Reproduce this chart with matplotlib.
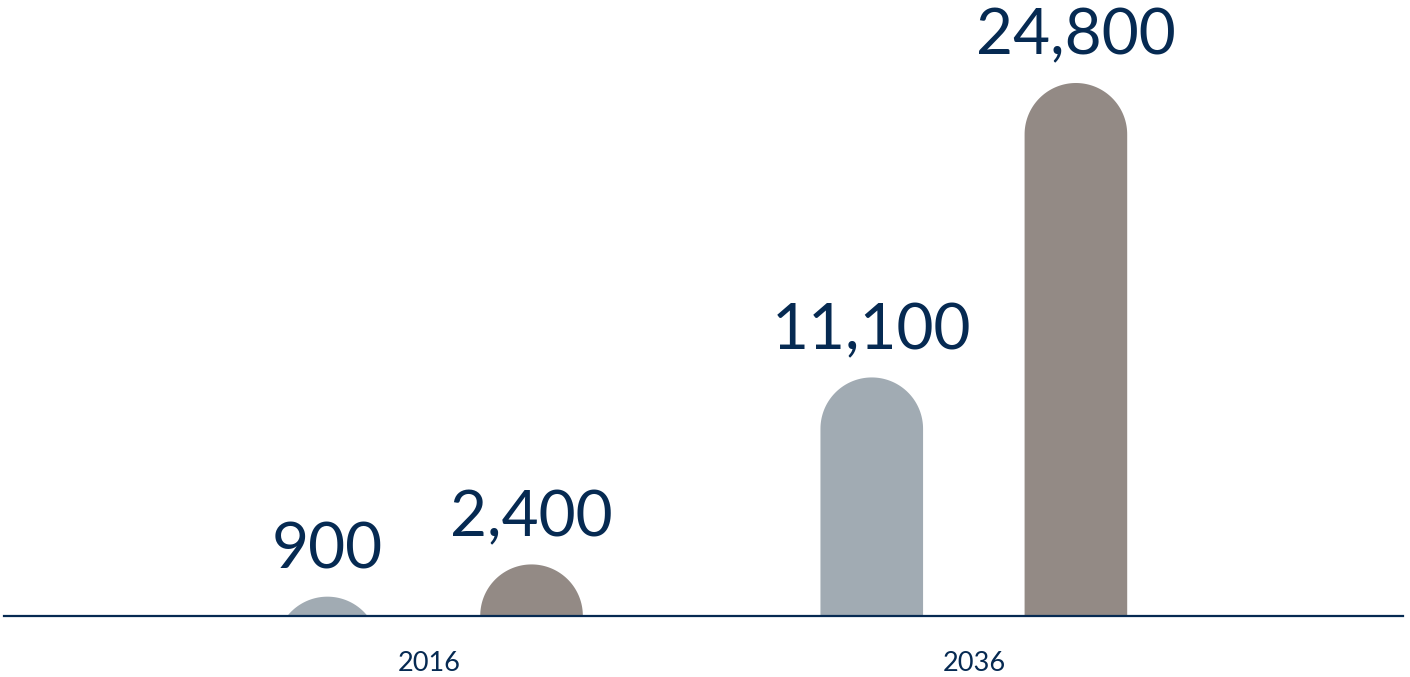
import numpy as np
import matplotlib
matplotlib.use("Agg")
import matplotlib.pyplot as plt
from matplotlib.patches import PathPatch
from matplotlib.path import Path

categories = ["2016", "2036"]
series_a = [900, 11100]
series_b = [2400, 24800]
value_labels_a = ["900", "11,100"]
value_labels_b = ["2,400", "24,800"]

NAVY = "#062a52"
COL_A = "#a1abb3"
COL_B = "#938a85"

W, H, DPI = 1410, 677, 100
fig = plt.figure(figsize=(W / DPI, H / DPI), dpi=DPI)
ax_left_px, ax_right_px, base_px = 4, 1403, 616
ax = fig.add_axes([ax_left_px / W, (H - base_px) / H, (ax_right_px - ax_left_px) / W, base_px / H])

ymax = 24800 * base_px / 533.0
x0, x1 = -0.7816, 1.7884
ax.set_ylim(0, ymax)
ax.set_xlim(x0, x1)

bar_w = 0.1885
offset = 0.1875
ax_w_px = ax_right_px - ax_left_px
r_px = bar_w / (x1 - x0) * ax_w_px / 2.0
r_y = r_px * ymax / base_px

def rounded_bar(x, v, color):
    cy = v - r_y
    t = np.linspace(0, np.pi, 80)
    arc_x = x + (bar_w / 2) * np.cos(t)
    arc_y = cy + r_y * np.sin(t)
    bottom = min(0, cy) - r_y
    xs = np.concatenate([[x + bar_w / 2], arc_x, [x - bar_w / 2]])
    ys = np.concatenate([[bottom], arc_y, [bottom]])
    verts = np.column_stack([xs, ys])
    path = Path(np.vstack([verts, verts[:1]]), closed=True)
    ax.add_patch(PathPatch(path, facecolor=color, edgecolor="none", lw=0))

for i, cat in enumerate(categories):
    xa = i - offset
    xb = i + offset
    rounded_bar(xa, series_a[i], COL_A)
    rounded_bar(xb, series_b[i], COL_B)
    ax.annotate(value_labels_a[i], (xa, series_a[i]), xytext=(0, 12.5), textcoords="offset points",
                ha="center", va="bottom", fontsize=46, color=NAVY, family="Lato")
    ax.annotate(value_labels_b[i], (xb, series_b[i]), xytext=(0, 12.5), textcoords="offset points",
                ha="center", va="bottom", fontsize=46, color=NAVY, family="Lato")

ax.axhline(0, color=NAVY, lw=1.6, zorder=5, clip_on=False)
for s in ax.spines.values():
    s.set_visible(False)
ax.set_yticks([])
ax.set_xticks(range(len(categories)))
ax.set_xticklabels(categories, fontsize=19.5, color=NAVY, family="Lato")
ax.tick_params(axis="x", length=0, pad=25)
ax.patch.set_alpha(0)

fig.savefig("out.png", dpi=DPI)
